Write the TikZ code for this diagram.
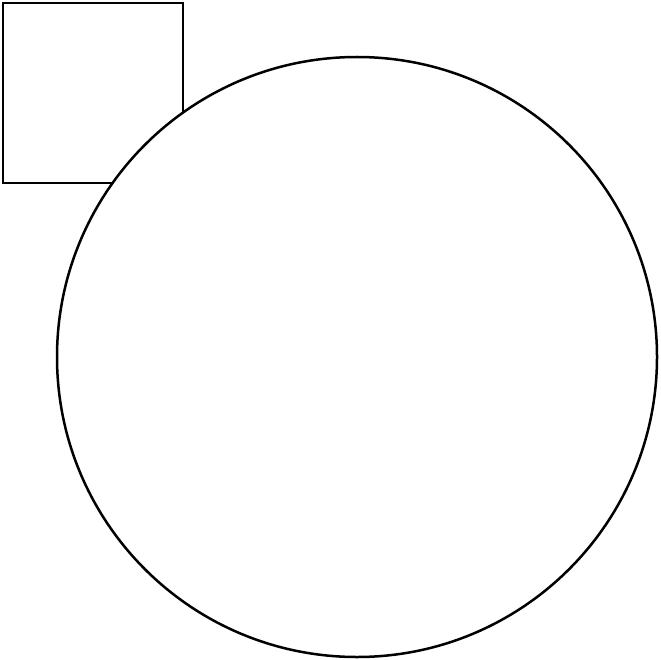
\documentclass[tikz,border=0pt]{standalone}
\tikzset{
  shape line/.style={draw=black, line width=2.5pt, inner sep=0pt, outer sep=0pt},
}
\begin{document}
\begin{tikzpicture}[x=1pt, y=-1pt]
		\useasboundingbox (0,0) rectangle (660,660);
		\node (box) [shape line, rectangle, minimum size=180pt] at (93,93) {};
		\node (disc) [shape line, circle, fill=white, minimum size=600pt] at (357,357) {};
	       \end{tikzpicture}
\end{document}
